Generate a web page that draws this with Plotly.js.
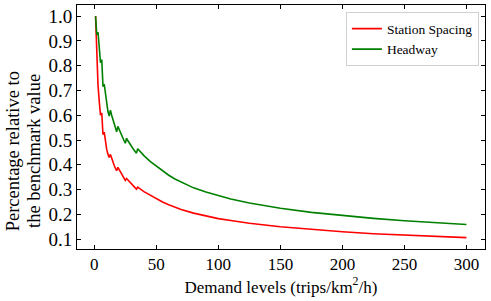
<!DOCTYPE html>
<html>
<head>
<meta charset="utf-8">
<script src="https://cdn.plot.ly/plotly-3.0.1.min.js"></script>
<style>html,body{margin:0;padding:0;background:#fff;}#chart{width:491px;height:301px;}</style>
</head>
<body>
<div id="chart"></div>
<script>
// Demand levels (trips/km^2/h)
const demand = [1,2,3,4,5,6,7,8,9,10,11,12,13,14,15,16,17,18,19,20,21,22,23,24,25,26,27,28,29,30,31,32,33,34,35,
  40,45,50,55,60,65,70,80,90,100,110,125,150,175,200,225,250,275,300];
// Station spacing (relative)
const stationSpacing = [1.000,0.800,0.720,0.655,0.600,0.610,0.522,0.532,0.492,0.462,0.443,0.430,0.442,0.425,0.410,0.398,0.386,0.376,0.390,0.382,0.374,0.366,0.358,0.350,0.337,0.345,0.339,0.333,0.327,0.322,0.317,0.312,0.307,0.302,0.310,
  0.292,0.277,0.263,0.250,0.239,0.229,0.220,0.205,0.193,0.183,0.175,0.164,0.150,0.139,0.130,0.122,0.116,0.111,0.106];
// Headway (relative)
const headway = [1.000,0.925,0.935,0.870,0.812,0.825,0.716,0.725,0.680,0.645,0.615,0.597,0.620,0.600,0.582,0.565,0.548,0.533,0.555,0.542,0.530,0.518,0.507,0.497,0.487,0.507,0.498,0.489,0.481,0.474,0.467,0.460,0.454,0.447,0.465,
  0.437,0.414,0.395,0.375,0.358,0.343,0.330,0.307,0.290,0.275,0.262,0.246,0.225,0.208,0.195,0.184,0.174,0.166,0.159];
const seriesNames = ["Station Spacing", "Headway"];
const xTicks = [0,50,100,150,200,250,300];
const yTicks = [0.1,0.2,0.3,0.4,0.5,0.6,0.7,0.8,0.9,1.0];
const yTitleLines = ["Percentage relative to", "the benchmark value"];

const font = 'Liberation Serif, Times New Roman, serif';
const traces = [
  {x: demand, y: stationSpacing, name: seriesNames[0], type: 'scatter', mode: 'lines',
   line: {color: '#ff0000', width: 1.6}},
  {x: demand, y: headway, name: seriesNames[1], type: 'scatter', mode: 'lines',
   line: {color: '#008000', width: 1.6}}
];
const axisCommon = {
  showline: true, linecolor: '#000', linewidth: 1, mirror: 'ticks',
  ticks: 'inside', ticklen: 4, tickwidth: 1, tickcolor: '#000',
  showgrid: false, zeroline: false
};
const layout = {
  width: 491, height: 301,
  margin: {l: 77, r: 6, t: 5, b: 52},
  font: {family: font, color: '#000'},
  paper_bgcolor: '#fff', plot_bgcolor: '#fff',
  showlegend: true,
  legend: {x: 0.985, y: 0.97, xanchor: 'right', yanchor: 'top',
    bgcolor: 'rgba(255,255,255,0.9)', bordercolor: '#d0d0d0', borderwidth: 1,
    font: {family: font, size: 13.5, color: '#000'}, tracegroupgap: 0},
  xaxis: Object.assign({}, axisCommon, {
    range: [-13.95, 314.95], tickvals: xTicks, ticktext: xTicks.map(String),
    tickfont: {family: font, size: 17, color: '#000'},
    title: {text: 'Demand levels (trips/km<sup>2</sup>/h)', font: {family: font, size: 17, color: '#000'}, standoff: 6}
  }),
  yaxis: Object.assign({}, axisCommon, {
    range: [0.0603, 1.0448], tickvals: yTicks, ticktext: yTicks.map(v => v.toFixed(1)),
    tickfont: {family: font, size: 19, color: '#000'}
  }),
  annotations: [
    {text: yTitleLines[0], xref: 'paper', yref: 'paper', x: -0.157, y: 0.40,
     xanchor: 'center', yanchor: 'middle', textangle: -90, showarrow: false,
     font: {family: font, size: 18.5, color: '#000'}},
    {text: yTitleLines[1], xref: 'paper', yref: 'paper', x: -0.104, y: 0.40,
     xanchor: 'center', yanchor: 'middle', textangle: -90, showarrow: false,
     font: {family: font, size: 18.5, color: '#000'}}
  ]
};
Plotly.newPlot('chart', traces, layout, {displayModeBar: false, staticPlot: true});
</script>
</body>
</html>
